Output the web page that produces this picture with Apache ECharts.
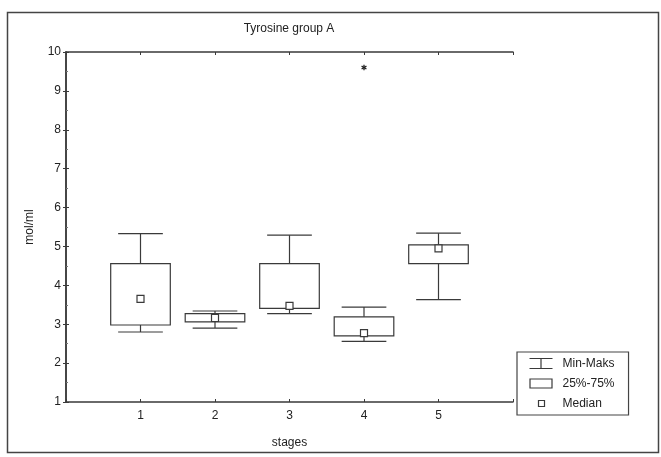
<!DOCTYPE html>
<html>
<head>
<meta charset="utf-8">
<script src="https://cdn.jsdelivr.net/npm/echarts@6/dist/echarts.min.js"></script>
<style>
html,body{margin:0;padding:0;background:#fff;}
#chart{width:661px;height:457px;}
</style>
</head>
<body>
<div id="chart"></div>
<script>
const categories = [1, 2, 3, 4, 5];
const minVals    = [2.80, 2.90, 3.27, 2.56, 3.63];
const q1Vals     = [2.98, 3.06, 3.41, 2.70, 4.56];
const medianVals = [3.65, 3.16, 3.47, 2.77, 4.95];
const q3Vals     = [4.56, 3.27, 4.56, 3.19, 5.04];
const maxVals    = [5.33, 3.34, 5.29, 3.44, 5.34];
const outliers   = [[4, 9.6]];
const xTickLabels = ['1', '2', '3', '4', '5'];
const yTickLabels = ['1', '2', '3', '4', '5', '6', '7', '8', '9', '10'];

const LINE = '#3a3a3a';
const FONT = 'Liberation Sans';

const boxData = categories.map((c, i) => [c, minVals[i], q1Vals[i], medianVals[i], q3Vals[i], maxVals[i]]);

const chart = echarts.init(document.getElementById('chart'), null, {renderer: 'canvas'});

function whiskerItem(params, api) {
  const x = api.value(0);
  const pMin = api.coord([x, api.value(1)]);
  const pQ1 = api.coord([x, api.value(2)]);
  const pQ3 = api.coord([x, api.value(4)]);
  const pMax = api.coord([x, api.value(5)]);
  const hw = api.size([0.6, 0])[0] / 2;
  const st = {stroke: LINE, lineWidth: 1.2};
  return {type: 'group', children: [
    {type: 'line', shape: {x1: pMin[0], y1: pMin[1], x2: pQ1[0], y2: pQ1[1]}, style: st},
    {type: 'line', shape: {x1: pQ3[0], y1: pQ3[1], x2: pMax[0], y2: pMax[1]}, style: st},
    {type: 'line', shape: {x1: pMin[0] - hw, y1: pMin[1], x2: pMin[0] + hw, y2: pMin[1]}, style: st},
    {type: 'line', shape: {x1: pMax[0] - hw, y1: pMax[1], x2: pMax[0] + hw, y2: pMax[1]}, style: st}
  ]};
}
function boxItem(params, api) {
  const x = api.value(0);
  const pQ1 = api.coord([x, api.value(2)]);
  const pQ3 = api.coord([x, api.value(4)]);
  const w = api.size([0.8, 0])[0];
  return {type: 'rect', shape: {x: pQ3[0] - w / 2, y: pQ3[1], width: w, height: pQ1[1] - pQ3[1]},
    style: {fill: 'none', stroke: LINE, lineWidth: 1.2}};
}
function medianItem(params, api) {
  const x = api.value(0);
  const p = api.coord([x, api.value(3)]);
  const s = 7;
  return {type: 'rect', shape: {x: p[0] - s / 2, y: p[1] - s / 2, width: s, height: s},
    style: {fill: '#fff', stroke: LINE, lineWidth: 1.2}};
}
function outlierItem(params, api) {
  const p = api.coord([api.value(0), api.value(1)]);
  const r = 2.8;
  const st = {stroke: '#222', lineWidth: 1.3};
  const d = r * 0.87;
  return {type: 'group', children: [
    {type: 'line', shape: {x1: p[0], y1: p[1] - r, x2: p[0], y2: p[1] + r}, style: st},
    {type: 'line', shape: {x1: p[0] - d, y1: p[1] - r / 2, x2: p[0] + d, y2: p[1] + r / 2}, style: st},
    {type: 'line', shape: {x1: p[0] - d, y1: p[1] + r / 2, x2: p[0] + d, y2: p[1] - r / 2}, style: st}
  ]};
}

const option = {
  backgroundColor: '#fff',
  animation: false,
  title: {
    text: 'Tyrosine group A', left: 284, top: 18, textAlign: 'center',
    textStyle: {fontFamily: FONT, fontSize: 12, fontWeight: 'normal', color: '#222'}
  },
  graphic: [{
    type: 'rect', shape: {x: 7.5, y: 12.5, width: 651, height: 440},
    style: {fill: 'none', stroke: '#444', lineWidth: 1.5}, silent: true
  }],
  legend: {
    left: 517, top: 352, orient: 'vertical',
    itemWidth: 28, itemHeight: 12, itemGap: 3,
    padding: [4, 14, 3, 10],
    borderColor: '#444', borderWidth: 1.2, backgroundColor: '#fff',
    textStyle: {fontFamily: FONT, fontSize: 12, color: '#222'},
    selectedMode: false,
    data: [
      {name: 'Min-Maks', icon: 'path://M0,1L23,1M11.5,1L11.5,11M0,11L23,11M28,12',
        itemStyle: {color: 'none', borderColor: LINE, borderWidth: 1.2}},
      {name: '25%-75%', icon: 'path://M0.5,1.5L22.5,1.5L22.5,10.5L0.5,10.5ZM0,0M28,12',
        itemStyle: {color: 'none', borderColor: LINE, borderWidth: 1.2}},
      {name: 'Median', icon: 'path://M9,3L15,3L15,9L9,9ZM0,0M28,12',
        itemStyle: {color: 'none', borderColor: LINE, borderWidth: 1.2}}
    ]
  },
  grid: {left: 66, right: 148, top: 52, bottom: 55},
  xAxis: [{
    type: 'value', min: 0, max: 6, interval: 1, position: 'bottom',
    name: 'stages', nameLocation: 'middle', nameGap: 35,
    nameTextStyle: {fontFamily: FONT, fontSize: 12, color: '#222'},
    axisLine: {show: true, lineStyle: {color: LINE, width: 1.5}},
    axisTick: {show: true, inside: true, length: 3, lineStyle: {color: LINE}},
    axisLabel: {fontFamily: FONT, fontSize: 12, color: '#222', margin: 8,
      formatter: v => (v >= 1 && v <= 5) ? xTickLabels[v - 1] : ''},
    splitLine: {show: false}
  }, {
    type: 'value', min: 0, max: 6, interval: 1, position: 'top',
    axisLine: {show: true, lineStyle: {color: LINE, width: 1.5}},
    axisTick: {show: true, inside: true, length: 3, lineStyle: {color: LINE}},
    axisLabel: {show: false}, splitLine: {show: false}
  }],
  yAxis: [{
    type: 'value', min: 1, max: 10, interval: 1, position: 'left',
    name: 'mol/ml', nameLocation: 'middle', nameGap: 30, nameRotate: 90,
    nameTextStyle: {fontFamily: FONT, fontSize: 12, color: '#222'},
    axisLine: {show: true, lineStyle: {color: LINE, width: 1.5}},
    axisTick: {show: true, inside: true, length: 3, lineStyle: {color: LINE}},
    minorTick: {show: true, splitNumber: 2, length: 2, lineStyle: {color: '#777'}},
    axisLabel: {fontFamily: FONT, fontSize: 12, color: '#222', margin: 5,
      formatter: v => yTickLabels[Math.round(v) - 1]},
    splitLine: {show: false}
  }, {
    type: 'value', min: 1, max: 10, interval: 1, position: 'right',
    axisLine: {show: true, lineStyle: {color: LINE, width: 1.5}},
    axisTick: {show: true, inside: true, length: 3, lineStyle: {color: LINE}},
    axisLabel: {show: false}, splitLine: {show: false}
  }],
  series: [
    {name: 'Min-Maks', type: 'custom', renderItem: whiskerItem, data: boxData, z: 2,
      encode: {x: 0, y: [1, 5]}, itemStyle: {color: LINE}},
    {name: '25%-75%', type: 'custom', renderItem: boxItem, data: boxData, z: 3,
      encode: {x: 0, y: [2, 4]}, itemStyle: {color: LINE}},
    {name: 'Median', type: 'custom', renderItem: medianItem, data: boxData, z: 4,
      encode: {x: 0, y: 3}, itemStyle: {color: LINE}},
    {name: 'Outlier', type: 'custom', renderItem: outlierItem, data: outliers, z: 4,
      encode: {x: 0, y: 1}}
  ]
};
chart.setOption(option);
</script>
</body>
</html>
